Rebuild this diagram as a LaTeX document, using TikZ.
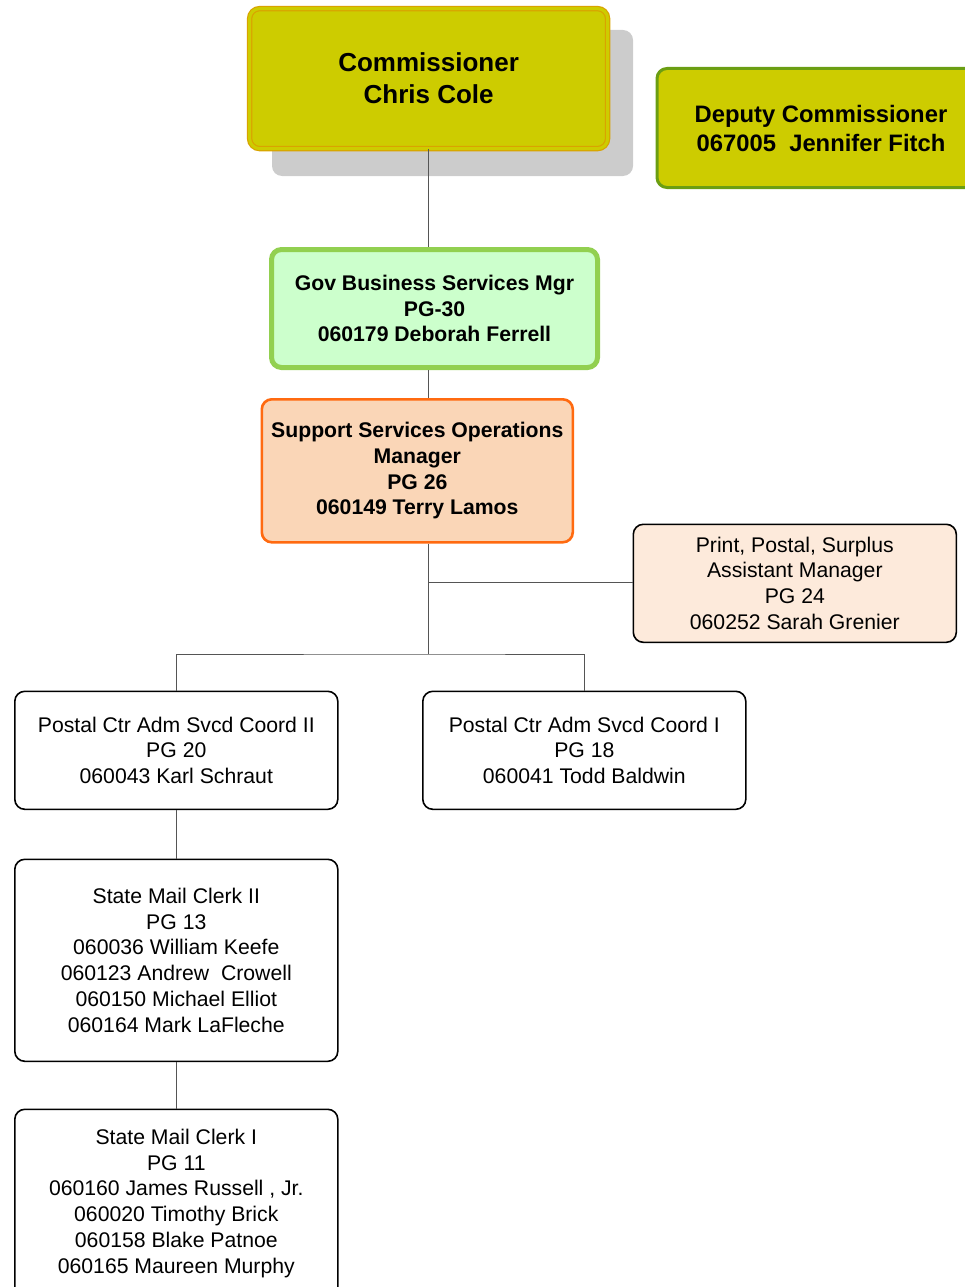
\documentclass[tikz,border=0pt]{standalone}
\usepackage{fontspec}
\setmainfont{Liberation Sans}
\definecolor{olive}{HTML}{CDCC00}
\definecolor{goldline}{HTML}{D9A300}
\definecolor{depline}{HTML}{6B9E12}
\definecolor{gbfill}{HTML}{CCFFCC}
\definecolor{gbline}{HTML}{92D050}
\definecolor{ssfill}{HTML}{FAD6B7}
\definecolor{ssline}{HTML}{FF6A10}
\definecolor{ppfill}{HTML}{FDEADB}
\definecolor{conn}{HTML}{555555}
\tikzset{
  box/.style={rounded corners=10pt, align=center, inner sep=0pt, anchor=north west},
  plain/.style={box, draw=black, line width=1.6pt, fill=white, font=\fontsize{21.2}{25.8}\selectfont},
  link/.style={draw=conn, line width=1pt},
}
\begin{document}
\begin{tikzpicture}[x=1pt,y=-1pt]
\useasboundingbox (0,0) rectangle (965,1287);
\clip (0,0) rectangle (965,1287);
\fill[gray!40, rounded corners=10pt] (272,30) rectangle (633,176);
% Commissioner
\node[box, draw=goldline, fill=olive, line width=1.2pt, double=olive, double distance=3pt,
  minimum width=358pt, minimum height=140pt, font=\bfseries\fontsize{26}{32}\selectfont]
  (comm) at (249,8) {Commissioner\\Chris Cole};
% Deputy
\node[box, draw=depline, fill=olive, line width=3pt, minimum width=328pt, minimum height=119pt,
  font=\bfseries\fontsize{23.8}{29}\selectfont] (dep) at (655.5,67) {Deputy Commissioner\\067005\ \ Jennifer Fitch};
% Gov Business
\node[box, draw=gbline, fill=gbfill, line width=5pt, minimum width=326pt, minimum height=118pt,
  font=\bfseries\fontsize{21.2}{25.8}\selectfont] (gov) at (269,247) {Gov Business Services Mgr\\PG-30\\060179 Deborah Ferrell};
% Support
\node[box, draw=ssline, fill=ssfill, line width=2.6pt, minimum width=311pt, minimum height=143pt,
  font=\bfseries\fontsize{21.2}{25.8}\selectfont] (sup) at (260.5,398) {Support Services Operations\\Manager\\PG 26\\060149 Terry Lamos};
% Print Postal
\node[plain, fill=ppfill, minimum width=323pt, minimum height=118pt] (pp) at (632.5,523.5)
  {Print, Postal, Surplus\\Assistant Manager\\PG 24\\060252 Sarah Grenier};
% Postal II
\node[plain, minimum width=323pt, minimum height=118pt] (pc2) at (14,690.5)
  {Postal Ctr Adm Svcd Coord II\\PG 20\\060043 Karl Schraut};
% Postal I
\node[plain, minimum width=323pt, minimum height=118pt] (pc1) at (422,690.5)
  {Postal Ctr Adm Svcd Coord I\\PG 18\\060041 Todd Baldwin};
% Clerk II
\node[plain, minimum width=323pt, minimum height=202pt] (mc2) at (14,858.5)
  {State Mail Clerk II\\PG 13\\060036 William Keefe\\060123 Andrew\ \ Crowell\\060150 Michael Elliot\\060164 Mark LaFleche};
% Clerk I
\node[plain, minimum width=323pt, minimum height=188pt] (mc1) at (14,1108.5)
  {State Mail Clerk I\\PG 11\\060160 James Russell , Jr.\\060020 Timothy Brick\\060158 Blake Patnoe\\060165 Maureen Murphy};
% connectors
\coordinate (j1) at (428,582);
\coordinate (j2) at (428,654);
\draw[link] (comm.south -| 428,0) -- (gov.north -| 428,0);
\draw[link] (gov.south -| 428,0) -- (sup.north -| 428,0);
\draw[link] (sup.south -| 428,0) -- (j2);
\draw[link] (j1) -- (pp.west |- j1);
\draw[link] (pc2.north) |- (j2) -| (pc1.north);
\draw[link] (pc2.south) -- (mc2.north);
\draw[link] (mc2.south) -- (mc1.north);
\end{tikzpicture}
\end{document}
